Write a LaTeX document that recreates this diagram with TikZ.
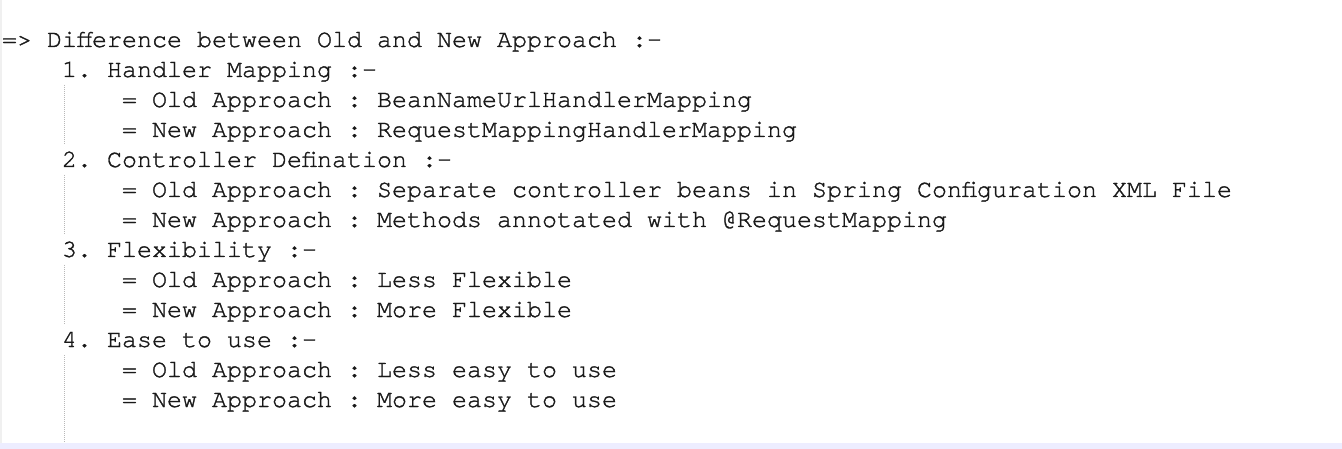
\documentclass[tikz,border=0pt]{standalone}
\usepackage{fontspec}
\setmonofont[FakeBold=1.2]{TeX Gyre Cursor}
\newlength\chw
\settowidth\chw{\ttfamily\fontsize{25}{30}\selectfont MMMMMMMMMM}
\pgfmathsetmacro\codefs{25*150/\chw}
\begin{document}
\begin{tikzpicture}[x=1pt,y=-1pt,
  ln/.style={anchor=base west,inner sep=0pt,outer sep=0pt,text=black!90,font=\ttfamily\fontsize{\codefs}{30}\selectfont},
  guide/.style={draw=black!28,line width=1pt,dash pattern=on 1pt off 1pt}]
\useasboundingbox (0,0) rectangle (1342,449);
\fill[white] (0,0) rectangle (1342,449);
\fill[black!6] (0,0) rectangle (2,449);
\fill[blue!7!white] (0,443) rectangle (1342,449);
% indentation guides
\coordinate (g1a) at (64.5,85); \coordinate (g1b) at (64.5,144);
\coordinate (g2a) at (64.5,175); \coordinate (g2b) at (64.5,234);
\coordinate (g3a) at (64.5,265); \coordinate (g3b) at (64.5,324);
\coordinate (g4a) at (64.5,355); \coordinate (g4b) at (64.5,443);
\draw[guide] (g1a) -- (g1b);
\draw[guide] (g2a) -- (g2b);
\draw[guide] (g3a) -- (g3b);
\draw[guide] (g4a) -- (g4b);
% text lines
\node[ln] (l0) at (2,47) {=> Difference between Old and New Approach :-};
\node[ln] (l1) at (62,77) {1. Handler Mapping :-};
\node[ln] (l2) at (122,107) {= Old Approach : BeanNameUrlHandlerMapping};
\node[ln] (l3) at (122,137) {= New Approach : RequestMappingHandlerMapping};
\node[ln] (l4) at (62,167) {2. Controller Defination :-};
\node[ln] (l5) at (122,197) {= Old Approach : Separate controller beans in Spring Configuration XML File};
\node[ln] (l6) at (122,227) {= New Approach : Methods annotated with @RequestMapping};
\node[ln] (l7) at (62,257) {3. Flexibility :-};
\node[ln] (l8) at (122,287) {= Old Approach : Less Flexible};
\node[ln] (l9) at (122,317) {= New Approach : More Flexible};
\node[ln] (l10) at (62,347) {4. Ease to use :-};
\node[ln] (l11) at (122,377) {= Old Approach : Less easy to use};
\node[ln] (l12) at (122,407) {= New Approach : More easy to use};
\end{tikzpicture}
\end{document}
